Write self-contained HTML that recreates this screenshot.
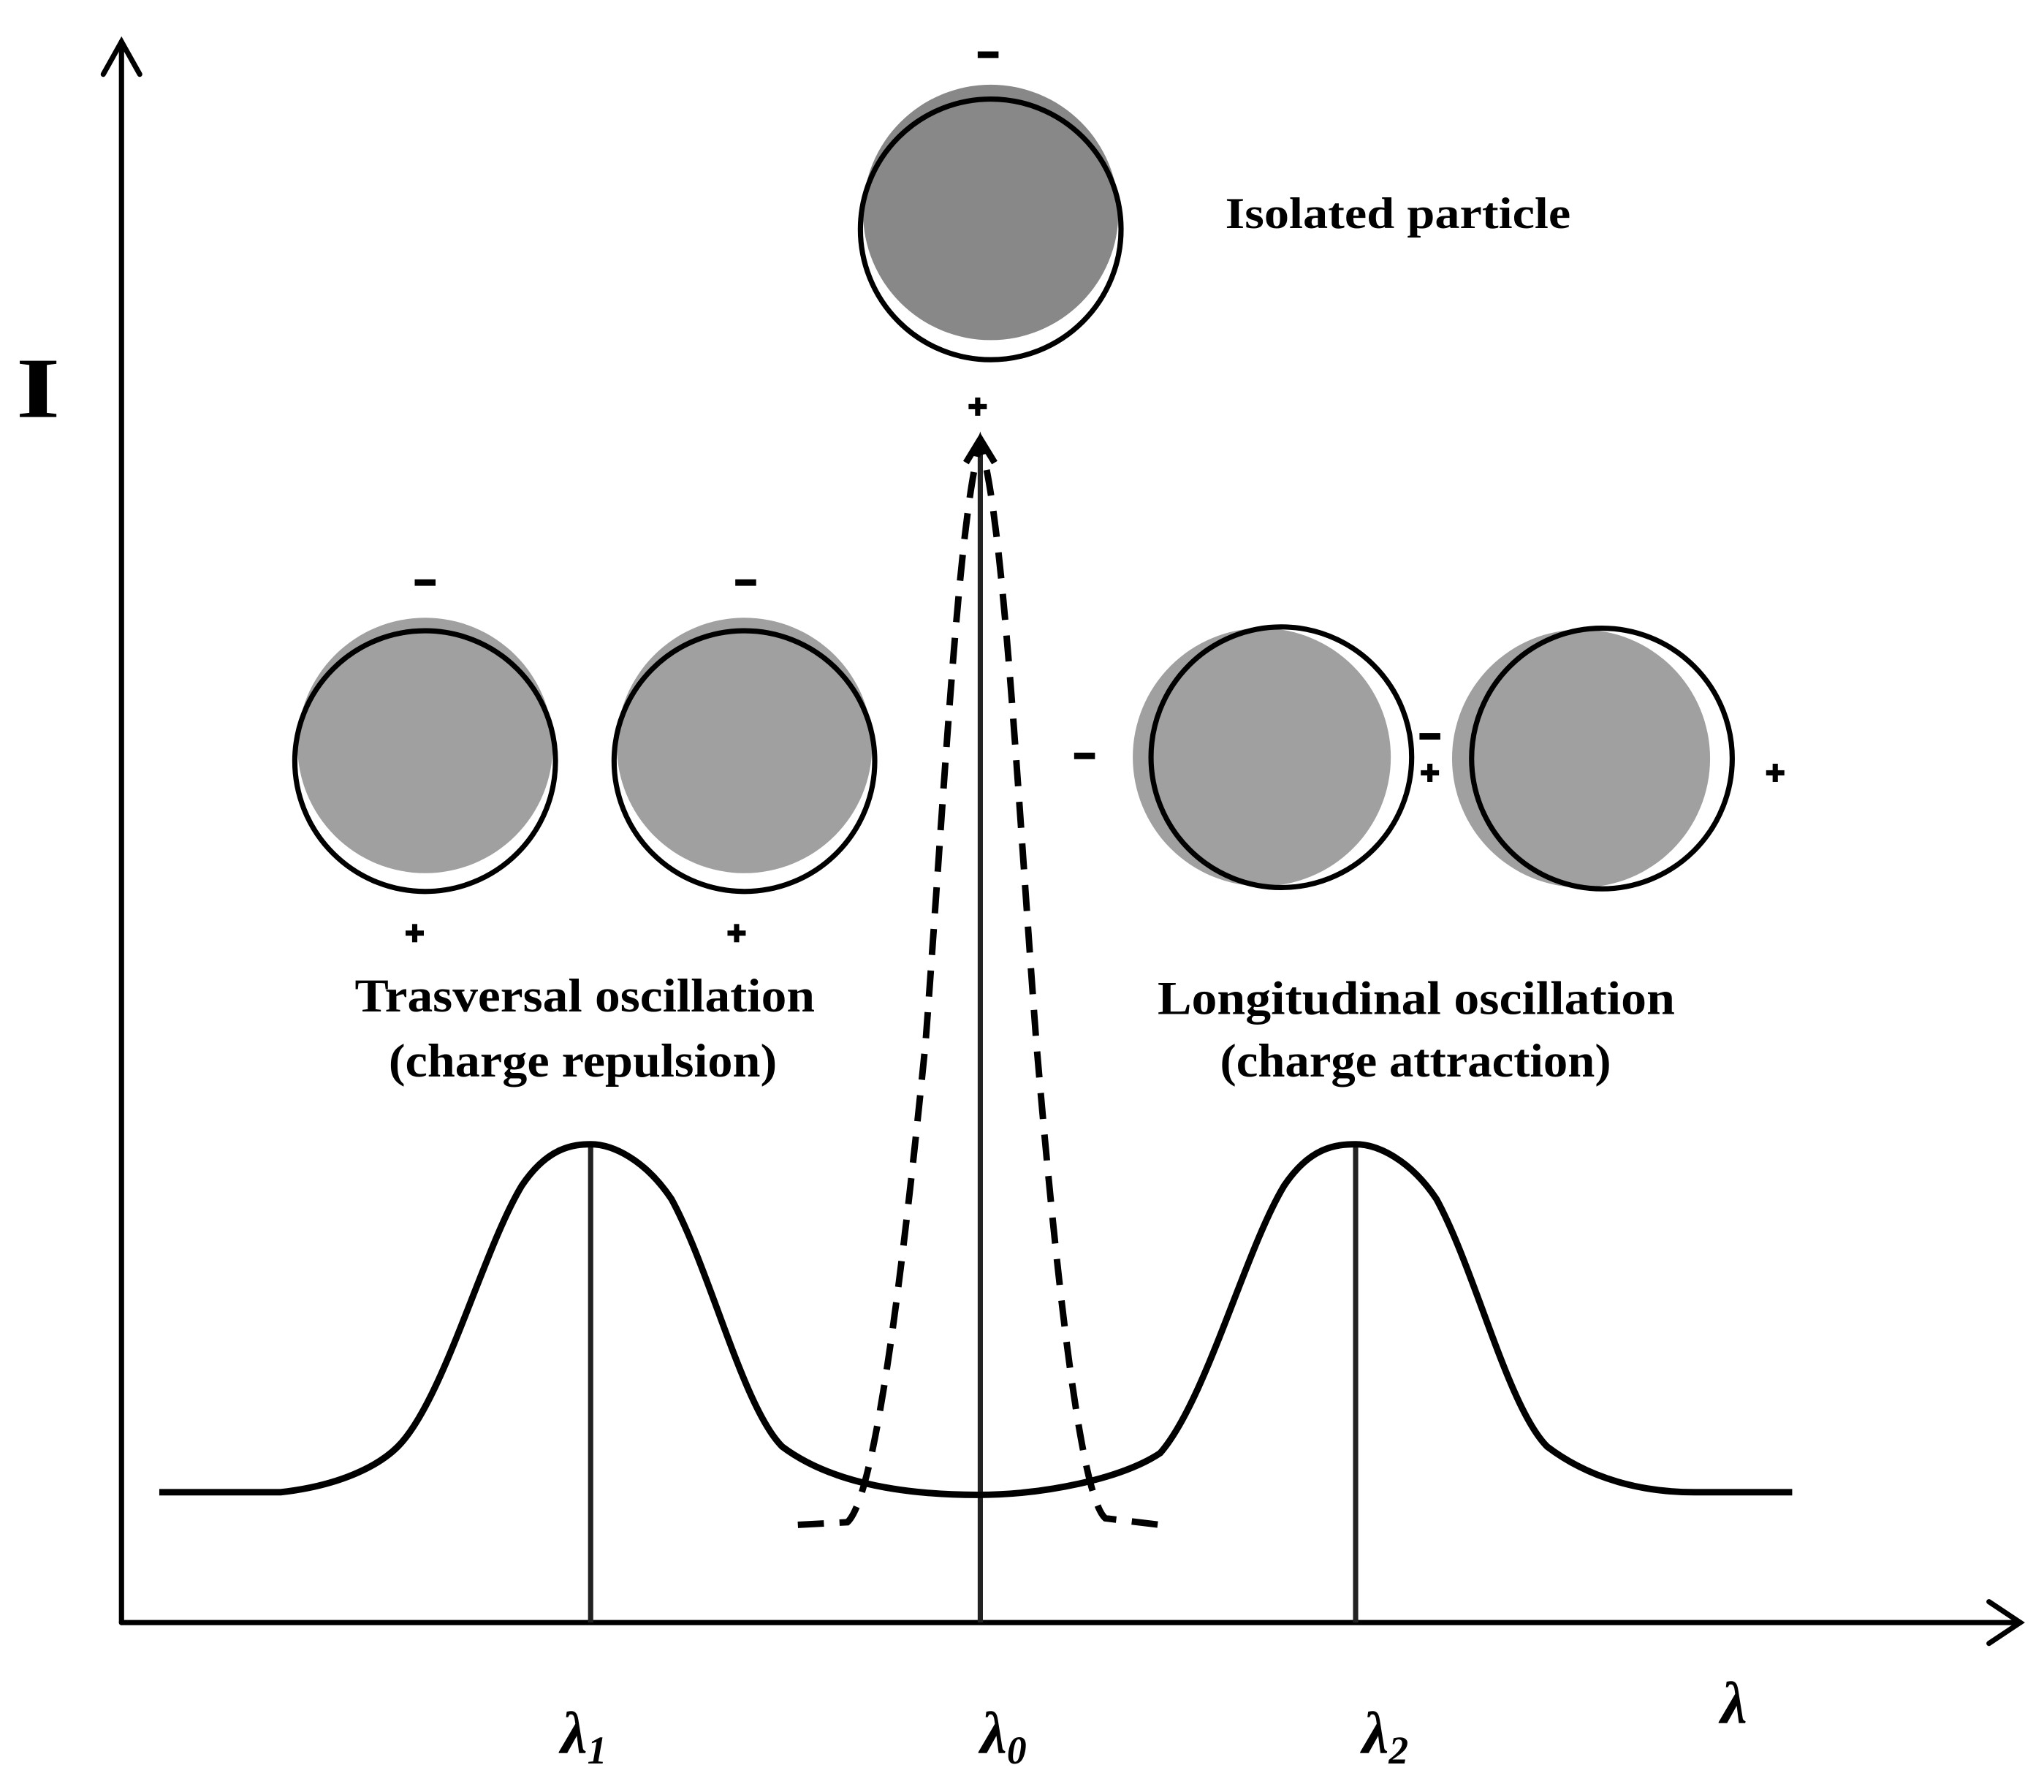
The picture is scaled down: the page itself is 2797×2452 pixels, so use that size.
<!DOCTYPE html>
<html><head><meta charset="utf-8"><style>
html,body{margin:0;padding:0;background:#fff;}
svg{display:block;}
text{font-family:"Liberation Serif",serif;font-weight:bold;fill:#000;}
</style></head><body>
<svg width="2797" height="2452" viewBox="0 0 1568 1375" xmlns="http://www.w3.org/2000/svg">
<defs>
<g id="mn"><rect x="-8" y="-2.5" width="16" height="5" fill="#000"/></g>
<g id="pl"><rect x="-7" y="-2" width="14" height="4" fill="#000"/><rect x="-2" y="-7" width="4" height="14" fill="#000"/></g>
</defs>
<rect width="1568" height="1375" fill="#fff"/>
<g stroke="#000" stroke-width="4" fill="none" stroke-linecap="round">
<line x1="93" y1="32" x2="93" y2="1245"/>
<polyline points="79,57 93,32 107,57"/>
<line x1="93" y1="1245" x2="1550" y2="1245"/>
<polyline points="1526,1229 1550,1245 1526,1261"/>
</g>
<text x="12" y="320" font-size="66" textLength="34" lengthAdjust="spacingAndGlyphs">I</text>
<circle cx="760" cy="163" r="98" fill="#888"/>
<circle cx="760" cy="176" r="100" fill="none" stroke="#000" stroke-width="4"/>
<use href="#mn" x="758" y="42"/>
<use href="#pl" x="750" y="312"/>
<text x="940" y="175" font-size="34" textLength="265" lengthAdjust="spacingAndGlyphs">Isolated particle</text>
<circle cx="326" cy="572" r="98" fill="#a0a0a0"/>
<circle cx="326" cy="584" r="100" fill="none" stroke="#000" stroke-width="4"/>
<circle cx="571" cy="572" r="98" fill="#a0a0a0"/>
<circle cx="571" cy="584" r="100" fill="none" stroke="#000" stroke-width="4"/>
<use href="#mn" x="326" y="447"/>
<use href="#mn" x="572" y="447"/>
<use href="#pl" x="318" y="716"/>
<use href="#pl" x="565" y="716"/>
<text x="272" y="776" font-size="36" textLength="353" lengthAdjust="spacingAndGlyphs">Trasversal oscillation</text>
<text x="298" y="826" font-size="36" textLength="298" lengthAdjust="spacingAndGlyphs">(charge repulsion)</text>
<circle cx="968" cy="581" r="99" fill="#a0a0a0"/>
<circle cx="983" cy="581" r="100" fill="none" stroke="#000" stroke-width="4"/>
<circle cx="1213" cy="582" r="99" fill="#a0a0a0"/>
<circle cx="1229" cy="582" r="100" fill="none" stroke="#000" stroke-width="4"/>
<use href="#mn" x="832" y="580"/>
<use href="#mn" x="1097" y="565"/>
<use href="#pl" x="1097" y="593"/>
<use href="#pl" x="1362" y="593"/>
<text x="888" y="778" font-size="36" textLength="397" lengthAdjust="spacingAndGlyphs">Longitudinal oscillation</text>
<text x="936" y="826" font-size="36" textLength="300" lengthAdjust="spacingAndGlyphs">(charge attraction)</text>
<g stroke="#222" stroke-width="4">
<line x1="453" y1="880" x2="453" y2="1245"/>
<line x1="1040" y1="880" x2="1040" y2="1245"/>
<line x1="752" y1="345" x2="752" y2="1245"/>
</g>
<polyline points="741,355 752,337 763,355" fill="none" stroke="#000" stroke-width="5"/>
<path d="M122,1145 L215,1145 C260,1140 290,1125 305,1110 C340,1075 370,960 400,910 C420,880 440,878 453,878 C470,878 495,890 515,920 C545,975 570,1080 600,1110 C640,1140 700,1147 750,1147 C800,1147 860,1135 890,1115 C925,1075 955,960 985,910 C1005,880 1025,878 1040,878 C1057,878 1082,890 1102,920 C1132,975 1157,1080 1187,1110 C1220,1135 1260,1145 1300,1145 L1375,1145" fill="none" stroke="#000" stroke-width="5"/>
<path d="M612,1170 L650,1168 C670,1150 690,1000 710,800 C725,600 735,400 752,340 C770,400 780,600 795,800 C812,1000 830,1150 848,1165 L890,1170" fill="none" stroke="#000" stroke-width="5" stroke-dasharray="20 12"/>
<g font-style="italic" font-size="46">
<text x="430" y="1345">λ<tspan font-size="30" dy="8">1</tspan></text>
<text x="752" y="1345">λ<tspan font-size="30" dy="8">0</tspan></text>
<text x="1045" y="1345">λ<tspan font-size="30" dy="8">2</tspan></text>
<text x="1320" y="1322">λ</text>
</g>
</svg>
</body></html>
